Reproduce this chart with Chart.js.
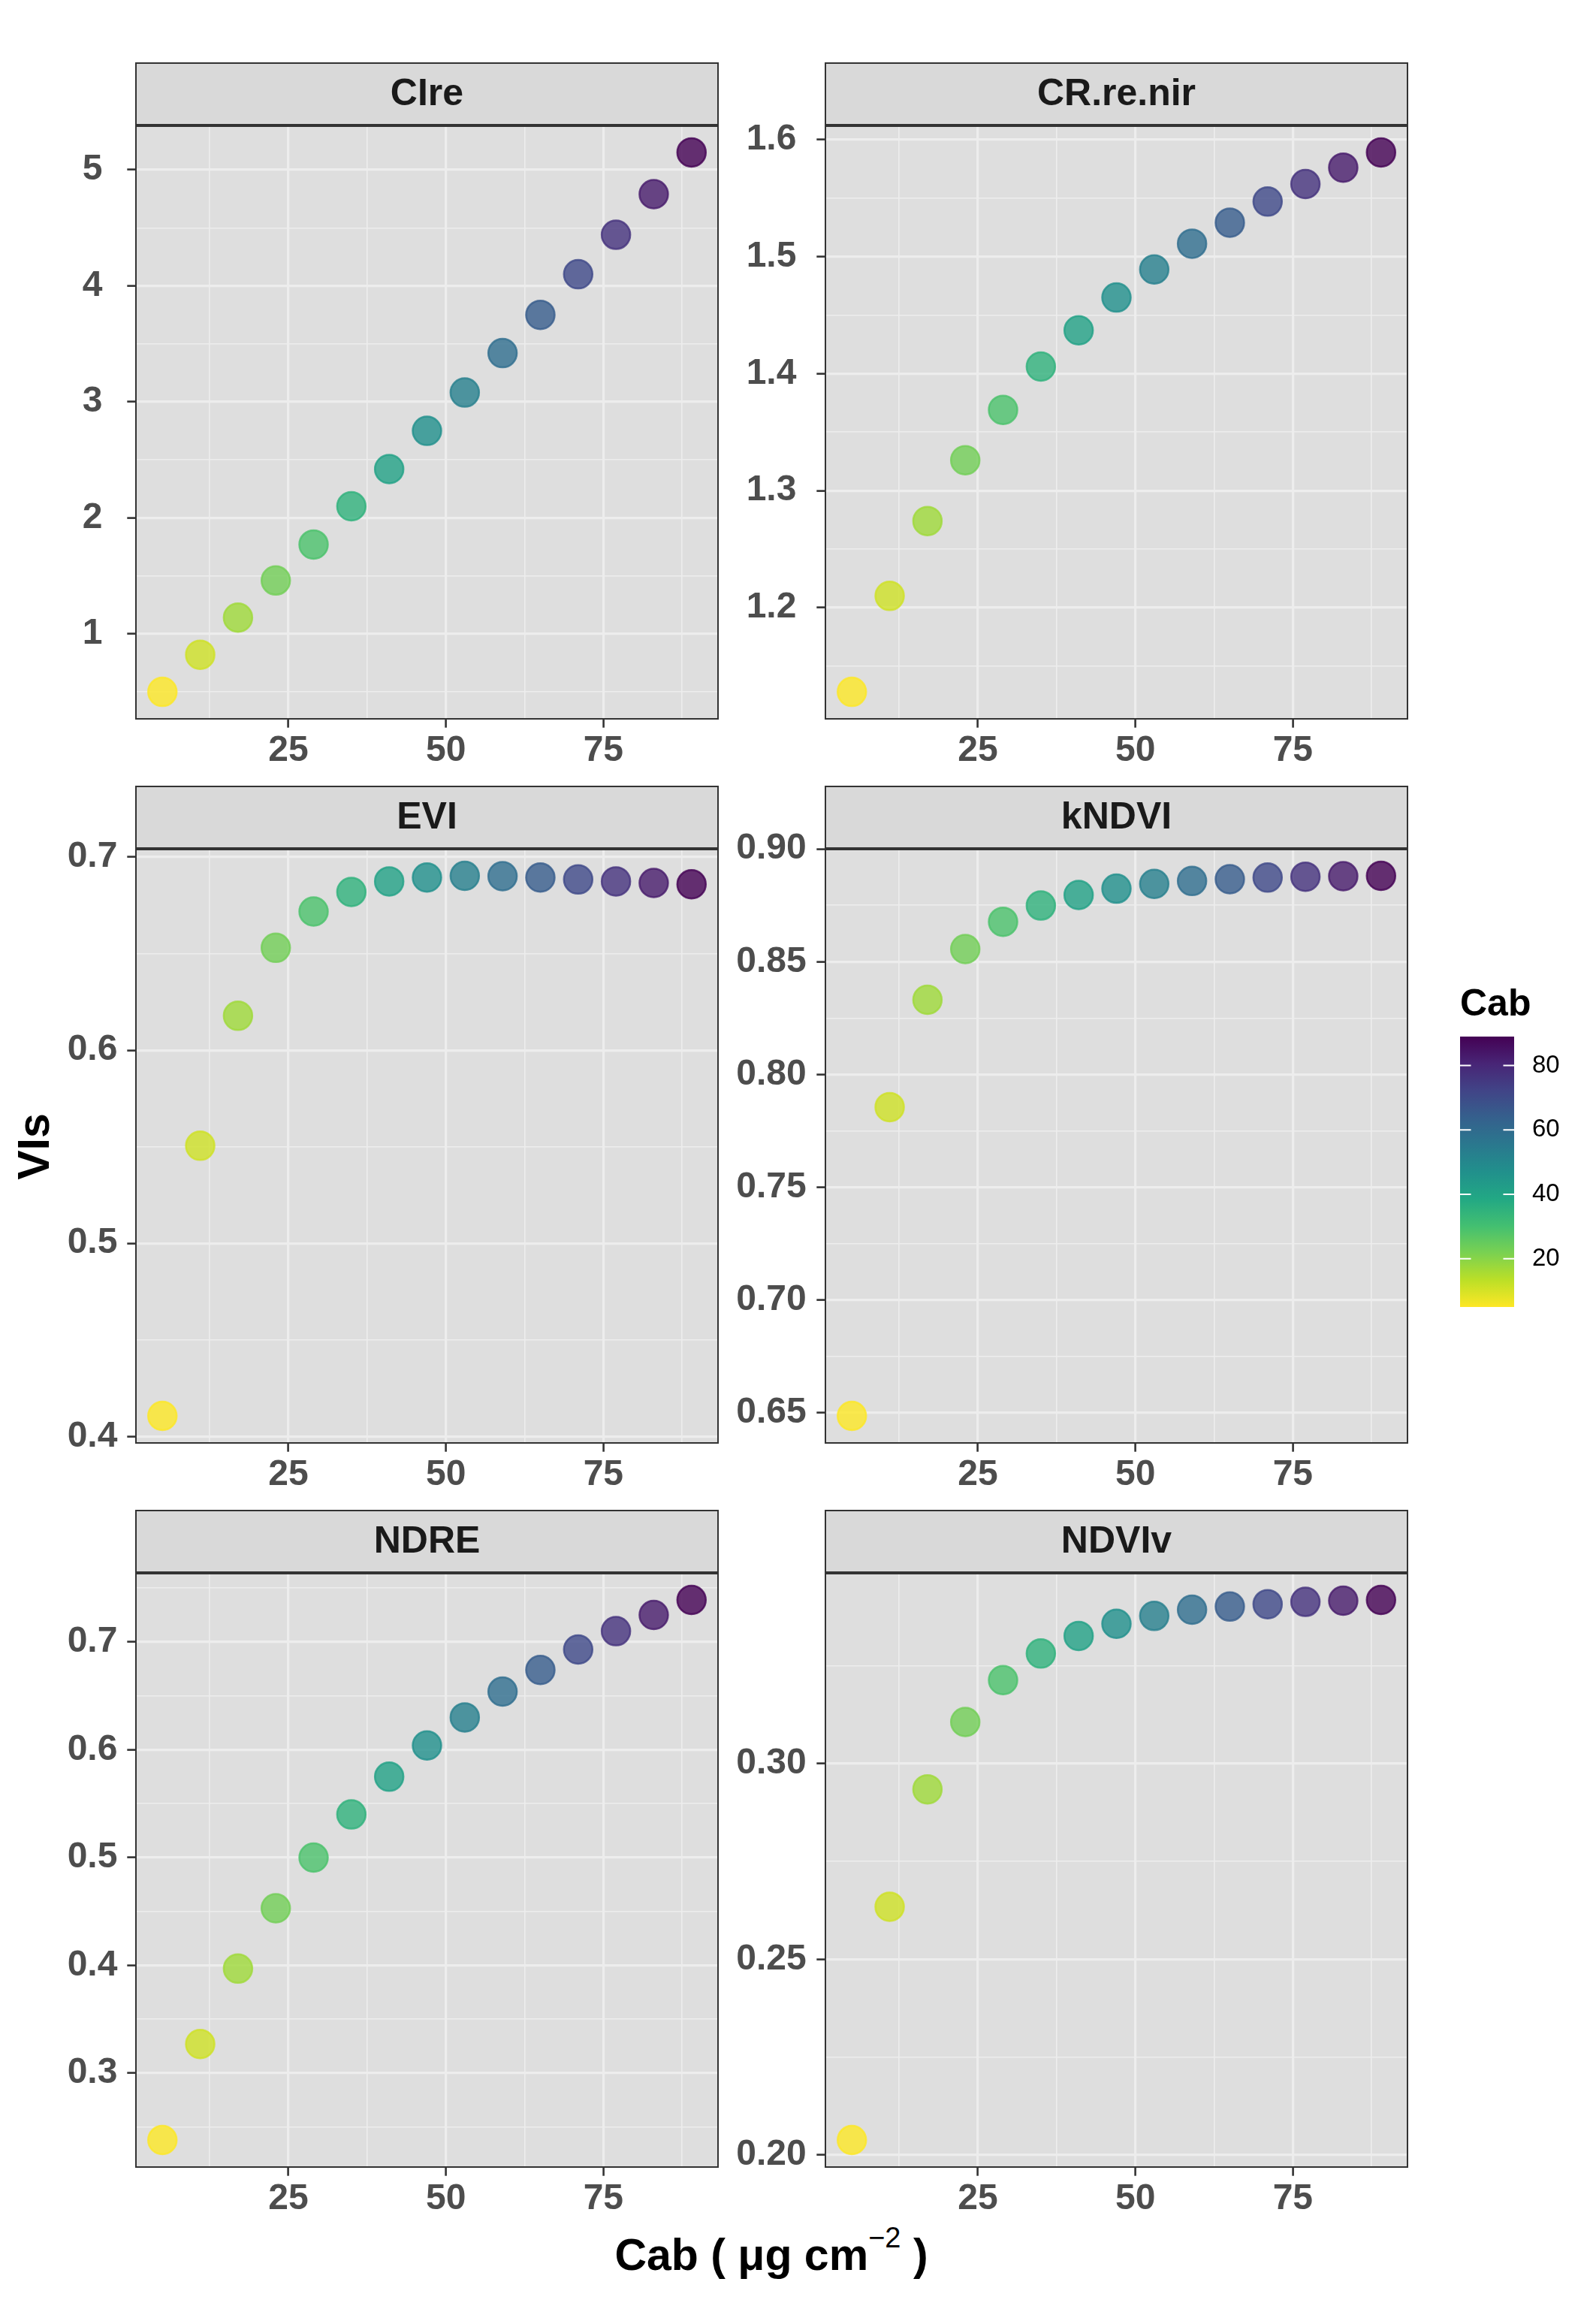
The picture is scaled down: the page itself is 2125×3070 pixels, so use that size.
<!DOCTYPE html>
<html>
<head>
<meta charset="utf-8">
<script src="https://cdn.jsdelivr.net/npm/chart.js@4.4.1/dist/chart.umd.min.js"></script>
<style>
  body { margin: 0; background: #fff; }
  #page { position: relative; width: 2125px; height: 3070px; background: #fff; overflow: hidden;
          font-family: "Liberation Sans", Arial, sans-serif; }
  #page canvas { position: absolute; }
  .lab { position: absolute; line-height: 1; white-space: nowrap; color: #000; font-weight: bold; }
  #ytitle { left: -55px; top: 1497px; width: 200px; height: 59px; line-height: 59px; font-size: 59px;
            text-align: center; transform: rotate(-90deg); }
  #xtitle { left: 627px; top: 2973px; width: 800px; font-size: 59px; text-align: center; }
  #xtitle .sup { position: relative; top: -30px; font-size: 38px; font-weight: normal; line-height: 1; }
  #legtitle { left: 1944px; top: 1310px; font-size: 50px; }
</style>
</head>
<body>
<div id="page">
  <div class="lab" id="ytitle">VIs</div>
  <div class="lab" id="xtitle">Cab ( μg cm<span class="sup">−2</span> )</div>
  <div class="lab" id="legtitle">Cab</div>
</div>
<script>
// Cab (x) and the six vegetation indices
var cab = [5, 11, 17, 23, 29, 35, 41, 47, 53, 59, 65, 71, 77, 83, 89];
var ciRe = [0.50, 0.82, 1.14, 1.46, 1.77, 2.10, 2.42, 2.75, 3.08, 3.42, 3.75, 4.10, 4.44, 4.79, 5.15];
var crReNir = [1.128, 1.210, 1.274, 1.326, 1.369, 1.406, 1.437, 1.465, 1.489, 1.511, 1.529, 1.547, 1.562, 1.576, 1.589];
var evi = [0.4106, 0.5505, 0.6178, 0.6530, 0.6718, 0.6819, 0.6874, 0.6894, 0.6903, 0.6901, 0.6894, 0.6884, 0.6874, 0.6866, 0.6859];
var kNdvi = [0.6485, 0.7855, 0.8331, 0.8556, 0.8677, 0.8749, 0.8796, 0.8824, 0.8845, 0.8858, 0.8866, 0.8873, 0.8877, 0.8879, 0.8881];
var ndre = [0.238, 0.327, 0.397, 0.453, 0.500, 0.540, 0.575, 0.604, 0.630, 0.654, 0.674, 0.693, 0.710, 0.725, 0.739];
var ndviV = [0.2038, 0.2634, 0.2934, 0.3106, 0.3213, 0.3281, 0.3326, 0.3357, 0.3377, 0.3393, 0.3401, 0.3407, 0.3413, 0.3416, 0.3418];

// tick labels
var xTickLabels = ['25', '50', '75'];
var ciReTicks = ['1', '2', '3', '4', '5'];
var crReNirTicks = ['1.2', '1.3', '1.4', '1.5', '1.6'];
var eviTicks = ['0.4', '0.5', '0.6', '0.7'];
var kNdviTicks = ['0.65', '0.70', '0.75', '0.80', '0.85', '0.90'];
var ndreTicks = ['0.3', '0.4', '0.5', '0.6', '0.7'];
var ndviVTicks = ['0.20', '0.25', '0.30'];
var legendTickLabels = ['20', '40', '60', '80'];

var panelNames = ['CIre', 'CR.re.nir', 'EVI', 'kNDVI', 'NDRE', 'NDVIv'];
var panelValues = [ciRe, crReNir, evi, kNdvi, ndre, ndviV];
var panelTicks = [ciReTicks, crReNirTicks, eviTicks, kNdviTicks, ndreTicks, ndviVTicks];

// viridis(11)
var viridis = ['#440154', '#482576', '#414487', '#35608D', '#2A788E', '#21908C',
               '#22A884', '#43BF71', '#7AD151', '#BBDF27', '#FDE725'];

var fontFamily = '"Liberation Sans", Arial, sans-serif';
var tickFont = {family: fontFamily, weight: 'bold', size: 48};
var tickLen = 11.7;

// layout (page pixels)
var colLeft = [181, 1099], colRight = [956, 1874], colCanvasLeft = [0, 962];
var labelCentre = [58, 72];           // y label centre, distance left of panel
var rowTop = [167, 1130, 2094], rowBottom = [957, 1921, 2885];
var stripH = 83;
var rightPad = 22;                    // room for point overflow, kept outside the panel

var cabMin = Math.min.apply(null, cab), cabMax = Math.max.apply(null, cab);

function hexRgb(h) {
    return [parseInt(h.substr(1, 2), 16), parseInt(h.substr(3, 2), 16), parseInt(h.substr(5, 2), 16)];
}
function viridisAt(t) {
    var p = t * (viridis.length - 1);
    var i = Math.min(Math.floor(p), viridis.length - 2), f = p - i;
    var a = hexRgb(viridis[i]), b = hexRgb(viridis[i + 1]);
    return [0, 1, 2].map(function (k) { return Math.round(a[k] + (b[k] - a[k]) * f); });
}
function cabColour(v, alpha) {
    var c = viridisAt(1 - (v - cabMin) / (cabMax - cabMin));
    return 'rgba(' + c.join(',') + ',' + alpha + ')';
}
// major ticks from the labels, minor ones half way between (ggplot style)
function buildTicks(labels, min, max) {
    var major = labels.map(Number);
    var step = major[1] - major[0];
    var out = major.map(function (v, i) { return {value: v, txt: labels[i], isMajor: true}; });
    for (var i = -1; i < major.length; i++) {
        var m = major[0] + step * (i + 0.5);
        if (m > min && m < max) out.push({value: m, txt: '', isMajor: false});
    }
    out.sort(function (a, b) { return a.value - b.value; });
    return out;
}

var gridOpts = {
    color: '#EDEDED',
    lineWidth: function (ctx) { return ctx.tick && ctx.tick.isMajor ? 3.2 : 1.6; },
    tickColor: function (ctx) { return ctx.tick && ctx.tick.isMajor ? '#333333' : 'rgba(0,0,0,0)'; },
    tickWidth: 2.6,
    tickLength: tickLen
};

var panelDecor = {
    id: 'panelDecor',
    beforeDraw: function (chart) {
        var a = chart.chartArea, ctx = chart.ctx;
        ctx.save();
        ctx.fillStyle = '#DEDEDE';
        ctx.fillRect(a.left, a.top, a.right - a.left, a.bottom - a.top);
        ctx.restore();
    },
    afterDraw: function (chart, args, opts) {
        var a = chart.chartArea, ctx = chart.ctx;
        ctx.save();
        ctx.fillStyle = '#D9D9D9';
        ctx.fillRect(a.left, a.top - stripH, a.right - a.left, stripH);
        ctx.strokeStyle = '#333333';
        ctx.lineWidth = 2;
        ctx.strokeRect(a.left, a.top - stripH, a.right - a.left, stripH);
        ctx.strokeRect(a.left, a.top, a.right - a.left, a.bottom - a.top);
        ctx.lineWidth = 4;
        ctx.beginPath();
        ctx.moveTo(a.left, a.top);
        ctx.lineTo(a.right, a.top);
        ctx.stroke();
        ctx.fillStyle = '#1A1A1A';
        ctx.font = 'bold 50px ' + fontFamily;
        ctx.textAlign = 'center';
        ctx.textBaseline = 'middle';
        ctx.fillText(opts.title, (a.left + a.right) / 2, a.top - stripH / 2 + 1);
        ctx.restore();
    }
};

var page = document.getElementById('page');
var measure = document.createElement('canvas').getContext('2d');
measure.font = 'bold 48px ' + fontFamily;

var xPad = (cabMax - cabMin) * 0.05;
var xMin = cabMin - xPad, xMax = cabMax + xPad;

panelNames.forEach(function (name, p) {
    var col = p % 2, row = Math.floor(p / 2);
    var vals = panelValues[p];
    var lo = Math.min.apply(null, vals), hi = Math.max.apply(null, vals);
    var yMin = lo - (hi - lo) * 0.05, yMax = hi + (hi - lo) * 0.05;
    var yTicks = buildTicks(panelTicks[p], yMin, yMax);
    var xTicks = buildTicks(xTickLabels, xMin, xMax);

    var left = colCanvasLeft[col], right = colRight[col] + rightPad;
    var top = rowTop[row] - 90, bottom = rowBottom[row] + 80;
    var cv = document.createElement('canvas');
    cv.width = right - left;
    cv.height = bottom - top;
    cv.style.left = left + 'px';
    cv.style.top = top + 'px';
    page.appendChild(cv);

    var yAxisW = colLeft[col] - left;
    var widest = Math.max.apply(null, panelTicks[p].map(function (t) { return measure.measureText(t).width; }));
    var labelPad = labelCentre[col] - tickLen - widest / 2;

    new Chart(cv, {
        type: 'scatter',
        data: {
            datasets: [{
                data: cab.map(function (c, i) { return {x: c, y: vals[i]}; }),
                backgroundColor: cab.map(function (c) { return cabColour(c, 0.8); }),
                borderColor: cab.map(function (c) { return cabColour(c, 0.8); }),
                borderWidth: 2.5,
                pointRadius: 19,
                pointHoverRadius: 19
            }]
        },
        options: {
            responsive: false,
            animation: false,
            events: [],
            layout: {padding: {top: 90, right: rightPad, left: 0, bottom: 0}},
            plugins: {legend: {display: false}, tooltip: {enabled: false}, panelDecor: {title: name}},
            scales: {
                x: {
                    type: 'linear', min: xMin, max: xMax,
                    afterBuildTicks: function (s) { s.ticks = xTicks.map(function (t) { return Object.assign({}, t); }); },
                    afterFit: function (s) { s.height = 80; },
                    border: {display: false},
                    grid: gridOpts,
                    ticks: {
                        autoSkip: false, maxRotation: 0, padding: 2, font: tickFont, color: '#4D4D4D',
                        callback: function (v, i, t) { return t[i].txt; }
                    }
                },
                y: {
                    type: 'linear', min: yMin, max: yMax,
                    afterBuildTicks: function (s) { s.ticks = yTicks.map(function (t) { return Object.assign({}, t); }); },
                    afterFit: function (s) { s.width = yAxisW; },
                    border: {display: false},
                    grid: gridOpts,
                    ticks: {
                        autoSkip: false, crossAlign: 'center', padding: labelPad, font: tickFont, color: '#4D4D4D',
                        callback: function (v, i, t) { return t[i].txt; }
                    }
                }
            }
        },
        plugins: [panelDecor]
    });
});

// colour bar legend
var barTicks = {
    id: 'barTicks',
    afterDatasetsDraw: function (chart) {
        var a = chart.chartArea, s = chart.scales.y, ctx = chart.ctx;
        ctx.save();
        ctx.strokeStyle = '#FFFFFF';
        ctx.lineWidth = 2;
        legendTickLabels.forEach(function (l) {
            var y = s.getPixelForValue(Number(l));
            ctx.beginPath();
            ctx.moveTo(a.left, y); ctx.lineTo(a.left + 14.5, y);
            ctx.moveTo(a.right - 14.5, y); ctx.lineTo(a.right, y);
            ctx.stroke();
        });
        ctx.restore();
    }
};

var bar = document.createElement('canvas');
bar.width = 170;
bar.height = 448;
bar.style.left = '1944px';
bar.style.top = '1336px';
page.appendChild(bar);

new Chart(bar, {
    type: 'bar',
    data: {
        labels: ['Cab'],
        datasets: [{
            data: [[cabMin, cabMax]],
            backgroundColor: function (ctx) {
                var a = ctx.chart.chartArea;
                if (!a) return '#21908C';
                var g = ctx.chart.ctx.createLinearGradient(0, a.bottom, 0, a.top);
                for (var i = 0; i < viridis.length; i++) {
                    g.addColorStop(i / (viridis.length - 1), viridis[viridis.length - 1 - i]);
                }
                return g;
            },
            borderWidth: 0,
            barPercentage: 1,
            categoryPercentage: 1
        }]
    },
    options: {
        responsive: false,
        animation: false,
        events: [],
        layout: {padding: {top: 44, bottom: 44, left: 0, right: 0}},
        plugins: {legend: {display: false}, tooltip: {enabled: false}},
        scales: {
            x: {display: false},
            y: {
                position: 'right', min: cabMin, max: cabMax,
                afterBuildTicks: function (s) {
                    s.ticks = legendTickLabels.map(function (l) { return {value: Number(l), txt: l}; });
                },
                afterFit: function (s) { s.width = 98; },
                border: {display: false},
                grid: {display: false, drawTicks: false},
                ticks: {
                    padding: 24, font: {family: fontFamily, size: 33}, color: '#000000',
                    callback: function (v, i, t) { return t[i].txt; }
                }
            }
        }
    },
    plugins: [barTicks]
});
</script>
</body>
</html>
